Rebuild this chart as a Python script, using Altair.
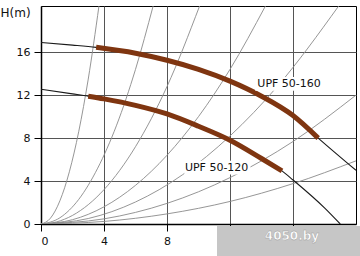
import altair as alt
import pandas as pd

# ---- system (resistance) curves ----
S1_Q = [0, 0.6, 1.2, 1.8, 2.4, 3.0, 3.68]
S1_H = [0, 0.54, 2.16, 4.86, 8.64, 13.5, 20.3]
S2_Q = [0, 1.2, 2.4, 3.6, 4.8, 6.0, 7.12]
S2_H = [0, 0.58, 2.3, 5.2, 9.2, 14.4, 20.3]
S3_Q = [0, 1, 2, 4, 6, 8, 10.07]
S3_H = [0, 0.2, 0.8, 3.2, 7.2, 12.8, 20.3]
S4_Q = [0, 2, 4, 6, 8, 10, 12, 14.25]
S4_H = [0, 0.4, 1.6, 3.6, 6.4, 10.0, 14.4, 20.3]
S5_Q = [0, 3, 6, 9, 12, 15, 18.9]
S5_H = [0, 0.51, 2.05, 4.6, 8.2, 12.8, 20.3]
S6_Q = [0, 4, 8, 12, 16, 20]
S6_H = [0, 0.48, 1.92, 4.32, 7.68, 12.0]
S7_Q = [0, 4, 8, 12, 16, 20]
S7_H = [0, 0.24, 0.94, 2.1, 3.76, 5.88]

# ---- pump curves (thin full curve) ----
P160_Q = [0, 2, 3.5, 6, 8, 10, 12, 14, 16, 17.6, 20]
P160_H = [16.9, 16.66, 16.45, 15.9, 15.25, 14.4, 13.3, 11.9, 10.1, 8.0, 5.0]
P120_Q = [0, 2, 3, 4, 6, 8, 10, 12, 14, 15.3, 16, 18, 19]
P120_H = [12.55, 12.12, 11.9, 11.65, 11.05, 10.25, 9.1, 7.8, 6.1, 4.95, 4.1, 1.5, 0]

# ---- working ranges (thick brown) ----
W160_Q = [3.5, 6, 8, 10, 12, 14, 16, 17.6]
W160_H = [16.45, 15.9, 15.25, 14.4, 13.3, 11.9, 10.1, 8.0]
W120_Q = [3.0, 4, 6, 8, 10, 12, 14, 15.3]
W120_H = [11.9, 11.65, 11.05, 10.25, 9.1, 7.8, 6.1, 4.95]

LABELS = ["UPF 50-160", "UPF 50-120"]
LABEL_Q = [15.75, 11.15]
LABEL_H = [13.05, 5.25]
BOX_Q1 = [13.6, 9.1]
BOX_Q2 = [17.9, 13.3]
BOX_H1 = [12.4, 4.6]
BOX_H2 = [13.7, 5.9]

sys_rows = []
for i, (qs, hs) in enumerate([(S1_Q, S1_H), (S2_Q, S2_H), (S3_Q, S3_H), (S4_Q, S4_H),
                              (S5_Q, S5_H), (S6_Q, S6_H), (S7_Q, S7_H)]):
    for q, h in zip(qs, hs):
        sys_rows.append({"Q": q, "H": h, "c": f"s{i}"})
sys_df = pd.DataFrame(sys_rows)

pump_df = pd.DataFrame(
    [{"Q": q, "H": h, "c": "160"} for q, h in zip(P160_Q, P160_H)]
    + [{"Q": q, "H": h, "c": "120"} for q, h in zip(P120_Q, P120_H)]
)
work_df = pd.DataFrame(
    [{"Q": q, "H": h, "c": "160"} for q, h in zip(W160_Q, W160_H)]
    + [{"Q": q, "H": h, "c": "120"} for q, h in zip(W120_Q, W120_H)]
)
lab_df = pd.DataFrame({"t": LABELS, "Q": LABEL_Q, "H": LABEL_H,
                       "q1": BOX_Q1, "q2": BOX_Q2, "h1": BOX_H1, "h2": BOX_H2})

xs = alt.Scale(domain=[0, 20], nice=False)
ys = alt.Scale(domain=[0, 20.3], nice=False)

xaxis = alt.Axis(values=[0, 4, 8, 12, 16], title=None, grid=True, tickSize=7,
                 labelPadding=4, labelExpr="datum.value > 8 ? '' : datum.label")
yaxis = alt.Axis(values=[0, 4, 8, 12, 16], title="H(m)", titleAngle=0,
                 titleAlign="left", titleBaseline="middle", titleX=-41, titleY=6,
                 titleFontWeight="normal", titleFontSize=12, grid=True, tickSize=7,
                 labelPadding=4)

sys_layer = alt.Chart(sys_df).mark_line(
    color="#8a8a8a", strokeWidth=0.9, interpolate="monotone", clip=True
).encode(x=alt.X("Q:Q", scale=xs, axis=xaxis), y=alt.Y("H:Q", scale=ys, axis=yaxis),
         detail="c:N")

pump_layer = alt.Chart(pump_df).mark_line(
    color="#1a1a1a", strokeWidth=1.1, interpolate="monotone", clip=True
).encode(x=alt.X("Q:Q", scale=xs), y=alt.Y("H:Q", scale=ys), detail="c:N")

work_layer = alt.Chart(work_df).mark_line(
    color="#7f3510", strokeWidth=5, interpolate="monotone", strokeCap="butt"
).encode(x=alt.X("Q:Q", scale=xs), y=alt.Y("H:Q", scale=ys), detail="c:N")

box_layer = alt.Chart(lab_df).mark_rect(color="white").encode(
    x=alt.X("q1:Q", scale=xs), x2="q2:Q", y=alt.Y("h1:Q", scale=ys), y2="h2:Q")

text_layer = alt.Chart(lab_df).mark_text(
    font="DejaVu Sans", fontSize=11, color="#111", align="center", baseline="middle"
).encode(x=alt.X("Q:Q", scale=xs), y=alt.Y("H:Q", scale=ys), text="t:N")

wm_rect = alt.Chart(lab_df).mark_rect(color="#c6c6c6", clip=False).encode(
    x=alt.value(176), x2=alt.value(320), y=alt.value(220), y2=alt.value(252))
wm_text = alt.Chart(pd.DataFrame({"t": ["4050.by"]})).mark_text(
    font="DejaVu Sans", fontSize=12, fontWeight="bold", color="white",
    align="center", baseline="middle", stroke="#9a9a9a", strokeWidth=0.4
).encode(x=alt.value(251), y=alt.value(230), text="t:N")

chart = alt.layer(sys_layer, pump_layer, work_layer, box_layer, text_layer,
                  wm_rect, wm_text).properties(
    width=315, height=218,
    autosize=alt.AutoSizeParams(type="none"),
    padding={"left": 41, "top": 6, "right": 4, "bottom": 32},
    background="white",
).configure_view(stroke="black", strokeWidth=1).configure_axis(
    domainColor="black", domainWidth=1.5, tickColor="black", tickWidth=1,
    gridColor="#555555", gridWidth=1, gridOpacity=1,
    labelFont="DejaVu Sans", labelFontSize=11, labelColor="#111",
    titleFont="DejaVu Sans", titleColor="#111"
)

chart.save("out.html", embed_options={"renderer": "svg", "actions": False})
